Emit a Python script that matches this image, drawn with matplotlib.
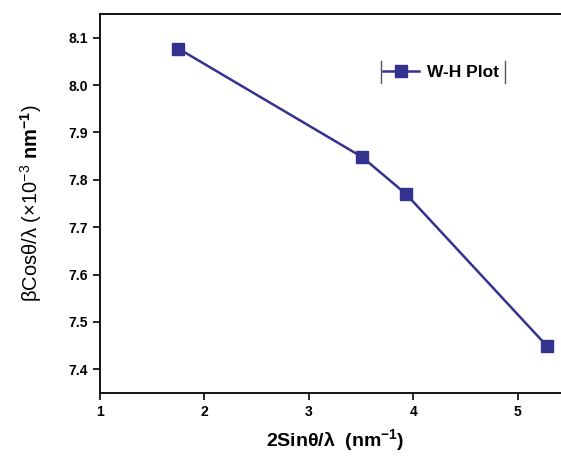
import matplotlib.pyplot as plt
from matplotlib.lines import Line2D

plt.rcParams['font.family'] = ['Liberation Sans', 'DejaVu Sans']
plt.rcParams['mathtext.fontset'] = 'custom'
plt.rcParams['mathtext.rm'] = 'Liberation Sans'
plt.rcParams['mathtext.bf'] = 'Liberation Sans:bold'

# W-H plot data
x_vals = [1.75, 3.51, 3.93, 5.28]
y_vals = [8.077, 7.848, 7.770, 7.449]
x_ticks = [1, 2, 3, 4, 5]
y_ticks = [7.4, 7.5, 7.6, 7.7, 7.8, 7.9, 8.0, 8.1]

color = '#33338f'

W, H = 561, 457
fig = plt.figure(figsize=(W / 100, H / 100), dpi=100)
left, right, bottom, top = 100, 570, 393, 14
ax = fig.add_axes([left / W, 1 - bottom / H, (right - left) / W, (bottom - top) / H])

ax.plot(x_vals, y_vals, color=color, lw=1.8, marker='s', ms=8.5,
        mfc=color, mec=color, label='W-H Plot', clip_on=False)

ax.set_xlim(1, 5.5)
ax.set_ylim(7.35, 8.15)
ax.set_xticks(x_ticks)
ax.set_yticks(y_ticks)
ax.set_yticklabels([f'{v:.1f}' for v in y_ticks])
ax.spines['right'].set_visible(False)
for s in ['left', 'bottom', 'top']:
    ax.spines[s].set_linewidth(1.3)
ax.tick_params(direction='out', length=5, width=1.2, labelsize=10)
for lab in ax.get_xticklabels() + ax.get_yticklabels():
    lab.set_fontweight('bold')

ax.set_xlabel(r'2Sin$\mathbf{\theta}$/$\mathbf{\lambda}$  (nm$^{\mathbf{-1}}$)',
              fontsize=14, fontweight='bold', labelpad=6)
ax.set_ylabel(r'$\mathrm{\beta}$Cos$\mathrm{\theta/\lambda}$ ($\times$10$^{-3}$ $\mathbf{nm}^{\mathbf{-1}}$)',
              fontsize=14.5, labelpad=18)

leg = ax.legend(loc='center left',
                bbox_to_anchor=((383 - left) / (right - left), (bottom - 72) / (bottom - top)),
                frameon=False, prop={'weight': 'bold', 'size': 12.5},
                handlelength=2.1, handletextpad=0.45, borderpad=0, borderaxespad=0)
# Origin-style vertical bars around the legend
for xp in [381, 505]:
    fig.add_artist(Line2D([xp / W, xp / W], [1 - 61 / H, 1 - 83 / H],
                          color='#555555', lw=1.0))

fig.savefig('out.png', dpi=100)
